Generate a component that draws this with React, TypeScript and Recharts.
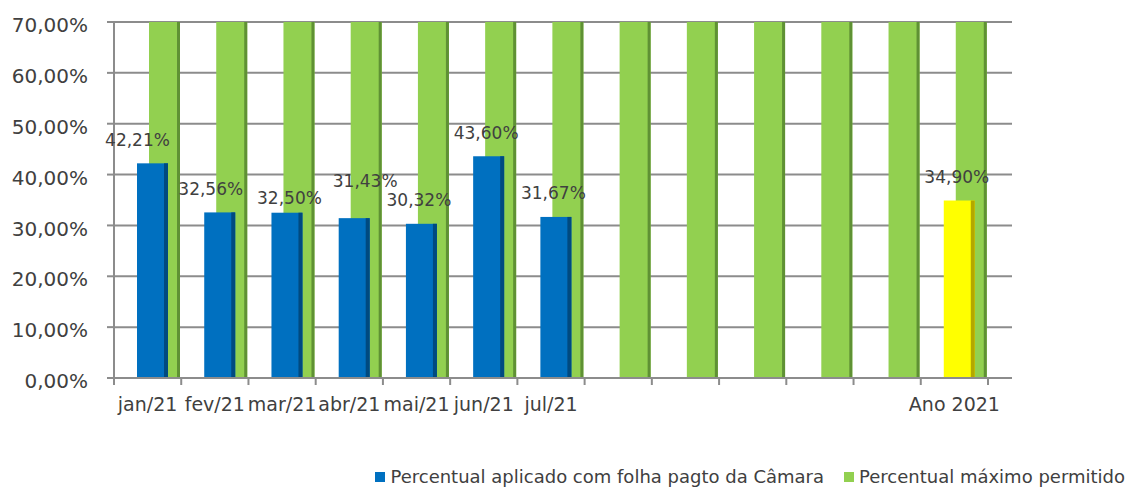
// Folha de pagamento da Câmara: percentual aplicado por mês x limite máximo permitido.

import {
  Bar,
  BarChart,
  CartesianGrid,
  Cell,
  LabelList,
  Legend,
  XAxis,
  YAxis,
} from "recharts";

const categories = [
  "jan/21", "fev/21", "mar/21", "abr/21", "mai/21", "jun/21", "jul/21",
  "ago/21", "set/21", "out/21", "nov/21", "dez/21", "Ano 2021",
];
const tickLabels = [
  "jan/21", "fev/21", "mar/21", "abr/21", "mai/21", "jun/21", "jul/21",
  "", "", "", "", "", "Ano 2021",
];
const aplicado = [42.21, 32.56, 32.5, 31.43, 30.32, 43.6, 31.67, null, null, null, null, null, 34.9];
const maximo = [70, 70, 70, 70, 70, 70, 70, 70, 70, 70, 70, 70, 70];
const yTicks = [0, 10, 20, 30, 40, 50, 60, 70];

// small manual nudges for a few value labels [dx, dy]
const labelNudge: Record<number, [number, number]> = {
  0: [-12.5, 0],
  1: [-6.5, 0],
  2: [5, 9],
  3: [13.5, -13.5],
};

const data = categories.map((mes, i) => ({
  mes,
  aplicado: aplicado[i],
  maximo: maximo[i],
}));

const WIDTH = 1129;
const HEIGHT = 488;
const PLOT_LEFT = 114;
const PLOT_RIGHT = 1012;
const PAD_RIGHT = 24;
const BAND = (PLOT_RIGHT - PAD_RIGHT - PLOT_LEFT) / categories.length;
const SHIFT = 11;

const BLUE = "#0070c0";
const GREEN = "#92d050";
const YELLOW = "#ffff00";
const EDGE: Record<string, string> = {
  [BLUE]: "#004a80",
  [GREEN]: "#5f9134",
  [YELLOW]: "#b3a800",
};
const GRID = "#8c8c8c";
const TEXT = "#404040";
const FONT = "'DejaVu Sans', sans-serif";

const pct = (v: number) => v.toFixed(2).replace(".", ",") + "%";

function ShadedBar(props: any) {
  const { x, y, width, height, fill } = props;
  if (!height || height <= 0) return null;
  const edge = fill === GREEN ? 3 : 4;
  return (
    <g>
      <rect x={x + SHIFT} y={y} width={width} height={height} fill={fill} />
      <rect
        x={x + SHIFT + width - edge}
        y={y}
        width={edge}
        height={height}
        fill={EDGE[fill] ?? fill}
      />
    </g>
  );
}

function ValueLabel(props: any) {
  const { x, y, width, value, index } = props;
  if (value == null) return null;
  const [dx, dy] = labelNudge[index] ?? [0, 0];
  return (
    <text
      x={x + width / 2 + SHIFT - 2.5 + dx}
      y={y - 17.5 + dy}
      textAnchor="middle"
      fontSize={17}
      fontFamily={FONT}
      fill={TEXT}
    >
      {pct(value)}
    </text>
  );
}

function MonthTick({ x, y, index }: any) {
  const left = x - BAND / 2;
  const last = index === categories.length - 1;
  return (
    <g>
      <line x1={left} x2={left} y1={y - 7} y2={y} stroke={GRID} strokeWidth={2} />
      {last && (
        <line x1={x + BAND / 2} x2={x + BAND / 2} y1={y - 7} y2={y} stroke={GRID} strokeWidth={2} />
      )}
      <text x={x} y={y + 26} textAnchor="middle" fontSize={19} fontFamily={FONT} fill={TEXT}>
        {tickLabels[index]}
      </text>
    </g>
  );
}

function LegendRow({ payload }: any) {
  const items = payload ?? [];
  return (
    <div
      style={{
        display: "flex",
        justifyContent: "flex-end",
        alignItems: "center",
        gap: 20,
        paddingRight: 4,
        fontFamily: FONT,
        fontSize: 18,
        lineHeight: "20px",
        color: TEXT,
      }}
    >
      {items.map((item: any) => (
        <span key={item.value} style={{ display: "flex", alignItems: "center", gap: 5 }}>
          <span style={{ width: 10, height: 10, background: item.color, display: "inline-block" }} />
          {item.value}
        </span>
      ))}
    </div>
  );
}

export default function App() {
  return (
    <div style={{ position: "absolute", left: 0, top: 0, fontFamily: FONT, background: "#fff" }}>
      <BarChart
        width={WIDTH}
        height={HEIGHT}
        data={data}
        margin={{ top: 22, right: WIDTH - PLOT_RIGHT, bottom: 70, left: 0 }}
        barGap={-43}
      >
        <CartesianGrid vertical={false} stroke={GRID} strokeWidth={2} />
        <XAxis
          dataKey="mes"
          interval={0}
          height={40}
          padding={{ left: 0, right: PAD_RIGHT }}
          axisLine={{ stroke: GRID, strokeWidth: 2 }}
          tickLine={false}
          tickSize={7}
          tickMargin={0}
          tick={<MonthTick />}
        />
        <YAxis
          width={PLOT_LEFT}
          domain={[0, 70]}
          ticks={yTicks}
          interval={0}
          tickFormatter={pct}
          axisLine={{ stroke: GRID, strokeWidth: 2 }}
          tickLine={{ stroke: GRID, strokeWidth: 2 }}
          tickSize={7}
          tickMargin={19}
          tick={{ fill: TEXT, fontSize: 20, fontFamily: FONT, dy: 3 }}
        />
        <Legend
          verticalAlign="middle"
          align="center"
          content={<LegendRow />}
          wrapperStyle={{ top: 467, left: 0, width: WIDTH }}
        />
        <Bar
          dataKey="maximo"
          name="Percentual máximo permitido"
          fill={GREEN}
          barSize={31}
          shape={<ShadedBar />}
          isAnimationActive={false}
        />
        <Bar
          dataKey="aplicado"
          name="Percentual aplicado com folha pagto da Câmara"
          fill={BLUE}
          barSize={31}
          shape={<ShadedBar />}
          isAnimationActive={false}
        >
          {data.map((d) => (
            <Cell key={d.mes} fill={d.mes === "Ano 2021" ? YELLOW : BLUE} />
          ))}
          <LabelList dataKey="aplicado" content={<ValueLabel />} />
        </Bar>
      </BarChart>
    </div>
  );
}
